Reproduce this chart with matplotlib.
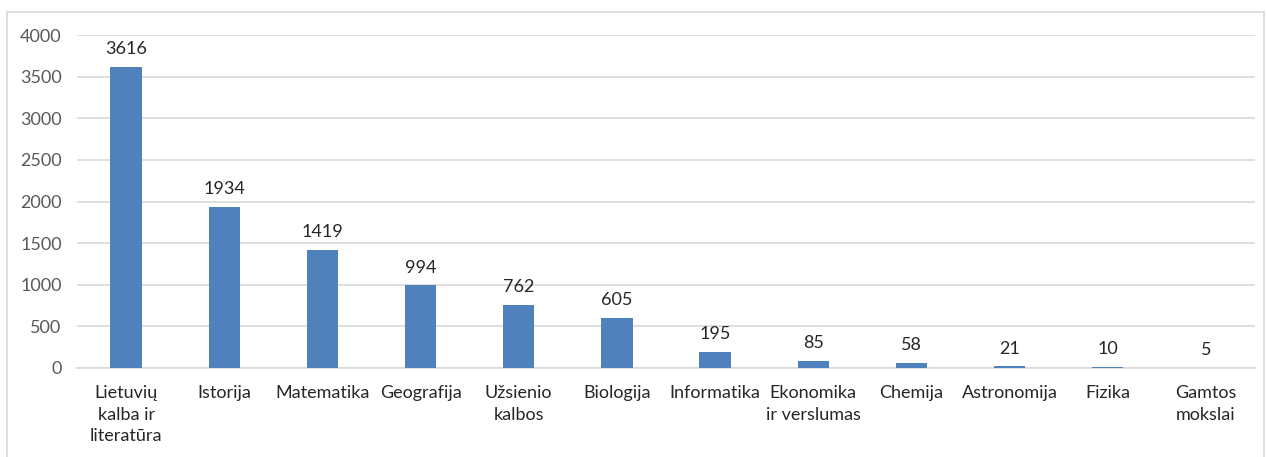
import matplotlib.pyplot as plt
import numpy as np
from matplotlib.patches import Rectangle

categories = ['Lietuvių\nkalba ir\nliteratūra', 'Istorija', 'Matematika', 'Geografija',
              'Užsienio\nkalbos', 'Biologija', 'Informatika', 'Ekonomika\nir verslumas',
              'Chemija', 'Astronomija', 'Fizika', 'Gamtos\nmokslai']
values = [3616, 1934, 1419, 994, 762, 605, 195, 85, 58, 21, 10, 5]
yticks = [0, 500, 1000, 1500, 2000, 2500, 3000, 3500, 4000]

plt.rcParams['font.family'] = ['Lato', 'DejaVu Sans']

W, H = 1267, 457
fig = plt.figure(figsize=(W / 100, H / 100), dpi=100)
ax = fig.add_axes([77 / W, 1 - 368 / H, (1255 - 77) / W, (368 - 35) / H])

# outer chart frame
fig.patches.append(Rectangle((7 / W, -0.1), (1264 - 7) / W, 1 - 12 / H + 0.1,
                             transform=fig.transFigure, fill=False,
                             edgecolor='#D9D9D9', linewidth=1.2))

x = np.arange(len(categories))
bars = ax.bar(x, values, width=0.32, color='#4F81BD', zorder=3)
for xi, v in zip(x, values):
    ax.annotate(str(v), (xi, v), xytext=(0, 7), textcoords='offset points',
                ha='center', va='bottom', fontsize=13, color='#262626')

ax.set_xlim(-0.5, len(categories) - 0.5)
ax.set_ylim(0, 4000)
ax.set_yticks(yticks)
ax.set_yticklabels([str(t) for t in yticks], fontsize=13, color='#595959')
ax.set_xticks(x)
ax.set_xticklabels(categories, fontsize=13, color='#262626', linespacing=1.45, va='top')
ax.tick_params(axis='both', length=0)
ax.tick_params(axis='x', pad=12)
ax.tick_params(axis='y', pad=11)
ax.grid(axis='y', color='#D9D9D9', linewidth=1.2, zorder=0)
for s in ['top', 'right', 'left']:
    ax.spines[s].set_visible(False)
ax.spines['bottom'].set_color('#D9D9D9')
ax.spines['bottom'].set_linewidth(1.2)

fig.savefig('out.png', dpi=100)
